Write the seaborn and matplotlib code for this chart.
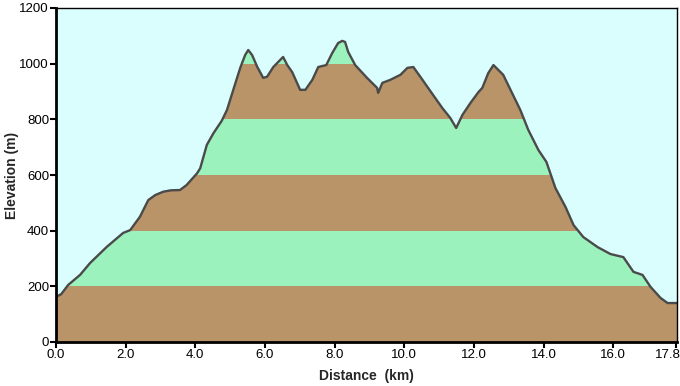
import numpy as np
import pandas as pd
import matplotlib
matplotlib.use("Agg")
import matplotlib.pyplot as plt
import matplotlib.transforms as mtransforms
import seaborn as sns

# elevation profile
dist = [0.0, 0.15, 0.35, 0.69, 0.98, 1.46, 1.93, 2.13, 2.41, 2.65, 2.85, 3.08,
        3.30, 3.56, 3.75, 4.05, 4.14, 4.33, 4.52, 4.76, 4.91, 5.09, 5.29, 5.43,
        5.52, 5.63, 5.78, 5.95, 6.06, 6.24, 6.38, 6.52, 6.64, 6.78, 7.01, 7.16,
        7.36, 7.53, 7.76, 7.93, 8.10, 8.22, 8.30, 8.39, 8.59, 8.93, 9.22, 9.25,
        9.37, 9.60, 9.89, 10.09, 10.26, 10.46, 10.83, 11.09, 11.32, 11.49, 11.67,
        11.90, 12.13, 12.24, 12.41, 12.56, 12.84, 13.05, 13.33, 13.56, 13.85,
        14.08, 14.34, 14.63, 14.86, 15.14, 15.55, 15.92, 16.29, 16.58, 16.84,
        17.07, 17.36, 17.56, 17.83]
elev = [162, 172, 205, 241, 284, 342, 392, 402, 450, 510, 528, 540,
        545, 546, 564, 606, 624, 708, 750, 795, 834, 906, 985, 1031,
        1049, 1031, 988, 949, 953, 988, 1006, 1024, 995, 970, 906, 906,
        942, 988, 995, 1038, 1074, 1082, 1078, 1042, 995, 949, 913, 895,
        931, 942, 960, 985, 988, 953, 887, 841, 805, 769, 816,
        859, 898, 913, 966, 995, 960, 906, 834, 762, 690,
        647, 553, 485, 420, 377, 341, 316, 305, 252, 241,
        198, 158, 140, 140]

band_edges = [0, 200, 400, 600, 800, 1000, 1200]
band_colors = ["#b89468", "#9cf2bd"]
x_ticks = [0, 2, 4, 6, 8, 10, 12, 14, 16, 17.8]

df = pd.DataFrame({"Distance": dist, "Elevation": elev})

sns.set_style("ticks")
plt.rcParams["font.family"] = ["Liberation Sans", "DejaVu Sans"]

fig = plt.figure(figsize=(6.8, 3.86), dpi=100)
ax = fig.add_axes([56 / 680, 1 - 342 / 386, 621 / 680, 334 / 386])
ax.set_facecolor("#dafefe")

# area under the profile, used as clip for the coloured bands
area = ax.fill_between(df["Distance"], 0, df["Elevation"], color="none", lw=0)
clip = area.get_paths()[0]
for i in range(len(band_edges) - 1):
    span = ax.axhspan(band_edges[i], band_edges[i + 1],
                      color=band_colors[i % 2], lw=0, zorder=1)
    span.set_clip_path(clip, ax.transData)

sns.lineplot(data=df, x="Distance", y="Elevation", ax=ax,
             color="#4a4a4a", lw=1.7, zorder=3)

ax.set_xlim(0, 17.83)
ax.set_ylim(0, 1200)
ax.set_xticks(x_ticks)
ax.set_xticklabels([f"{v:.1f}" for v in x_ticks])
ax.set_yticks(band_edges)
ax.tick_params(axis="both", labelsize=9.5, length=4, width=1.5,
               direction="out", colors="black", pad=1)
ax.set_xlabel("Distance  (km)", fontsize=10, fontweight="bold", labelpad=6)
ax.set_ylabel("Elevation (m)", fontsize=10, fontweight="bold", labelpad=0)

# last x label sits against the right edge
last = ax.get_xticklabels()[-1]
last.set_horizontalalignment("right")
last.set_transform(last.get_transform() +
                   mtransforms.ScaledTranslation(5 / 100, 0, fig.dpi_scale_trans))

for s in ["left", "bottom"]:
    ax.spines[s].set_linewidth(2)
for s in ["top", "right"]:
    ax.spines[s].set_linewidth(1)
for s in ax.spines.values():
    s.set_color("black")
    s.set_zorder(5)

fig.savefig("out.png", dpi=100)
